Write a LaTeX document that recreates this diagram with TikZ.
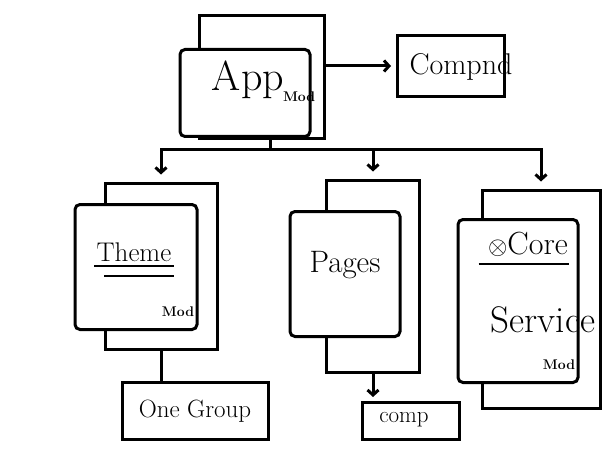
\documentclass[tikz,border=0pt]{standalone}
\usepackage{amsmath, amssymb}
\usetikzlibrary{arrows.meta}

\begin{document}
\begin{tikzpicture}[
		x = 1pt, y = -1pt, line width = 3pt,
		>= {Straight Barb[length = 5pt, width = 11pt]},
		back/.style = {draw, fill = white, inner sep = 0pt},
		front/.style = {draw, fill = white, rounded corners = 5pt, inner sep = 0pt},
		leaf/.style = {draw, inner sep = 0pt},
		word/.style = {inner sep = 1pt, font = \fontsize{27}{29}\selectfont},
		tag/.style = {inner sep = 1pt, font = \fontsize{14}{15}\selectfont\bfseries}
		]
		\useasboundingbox (0,0) rectangle (614,460);
		% Modules (back sheet, then front sheet)
		\node[back, minimum width = 125pt, minimum height = 123pt] (appback) at (262,77) {};
		\node[front, minimum width = 130pt, minimum height = 87pt] (app) at (245,93) {};
		\node[back, minimum width = 112pt, minimum height = 166pt] (themeback) at (161,266) {};
		\node[front, minimum width = 122pt, minimum height = 125pt] (theme) at (136,267) {};
		\node[back, minimum width = 93pt, minimum height = 192pt] (pagesback) at (373,276) {};
		\node[front, minimum width = 110pt, minimum height = 125pt] (pages) at (345,274) {};
		\node[back, minimum width = 118pt, minimum height = 218pt] (coreback) at (541,299) {};
		\node[front, minimum width = 120pt, minimum height = 163pt] (core) at (518,301) {};
		% Leaf boxes
		\node[leaf, minimum width = 107pt, minimum height = 61pt] (compnd) at (451,66) {};
		\node[leaf, minimum width = 146pt, minimum height = 57pt] (onegroup) at (195,411) {};
		\node[leaf, minimum width = 97pt, minimum height = 37pt] (comp) at (411,421) {};
		% Texts
		\node[word, font = \fontsize{42}{44}\selectfont] (apptext) at (248,80) {App};
		\node[tag, anchor = north west] at (apptext.south east) [xshift = -6pt, yshift = 12pt] {Mod};
		\node[word, font = \fontsize{30}{32}\selectfont] (compndtext) at (461,67) {Compnd};
		\node[word] (themetext) at (134,252) {Theme};
		\draw[line width = 2.4pt] ([yshift = -2pt]themetext.south west) -- ([yshift = -2pt]themetext.south east);
		\draw[line width = 2.4pt] ([xshift = 10pt, yshift = -12pt]themetext.south west) -- ([yshift = -12pt]themetext.south east);
		\node[tag, anchor = south east] at (theme.south east) [xshift = -2pt, yshift = 12pt] {Mod};
		\node[word, font = \fontsize{31}{33}\selectfont] (pagestext) at (345,265) {Pages};
		\node[word, font = \fontsize{32}{34}\selectfont] (coretext) at (528,244) {$\otimes$Core};
		\draw[line width = 2.4pt] ([yshift = -5pt]core.west |- coretext.south) ++(22pt,0) -- ++(90pt,0);
		\node[word, font = \fontsize{37}{39}\selectfont] (servicetext) at (543,320) {Service};
		\node[tag, anchor = south east] at (core.south east) [xshift = -2pt, yshift = 12pt] {Mod};
		\node[word, font = \fontsize{25}{27}\selectfont] (onegrouptext) at (onegroup) {One Group};
		\node[word, font = \fontsize{23}{25}\selectfont] (comptext) at (404,420) {comp};
		% Connectors
		\coordinate (bus) at (270,150);
		\draw (appback.south -| bus) -- (bus);
		\foreach \m in {themeback, pagesback, coreback}
			\draw[->, shorten >= 7pt] (bus) -| (\m.north);
		\draw[->, shorten >= 5pt] (appback.east |- compnd.west) -- (compnd.west);
		\draw (themeback.south) -- (themeback.south |- onegroup.north);
		\draw[->, shorten >= 4pt] (pagesback.south) -- (pagesback.south |- comp.north);
	\end{tikzpicture}
\end{document}
